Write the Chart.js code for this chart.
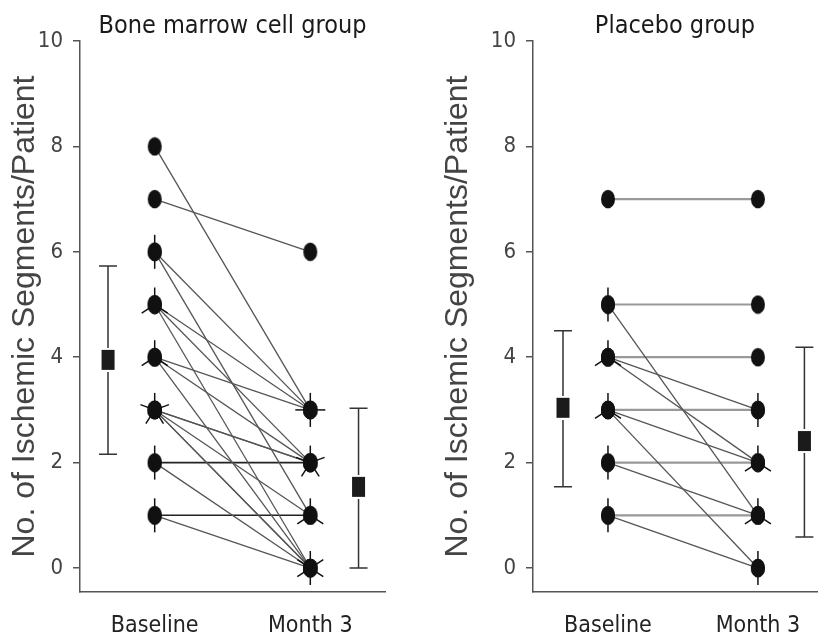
<!DOCTYPE html>
<html>
<head>
<meta charset="utf-8">
<script src="https://cdn.jsdelivr.net/npm/chart.js@4.4.1/dist/chart.umd.min.js"></script>
<style>
  body { margin: 0; background: #fff; }
  #wrap { position: relative; width: 826px; height: 638px; }
  #bmcChart { position: absolute; left: 0; top: 0; }
  #placeboChart { position: absolute; left: 430px; top: 0; }
</style>
</head>
<body>
<div id="wrap">
  <canvas id="bmcChart" width="430" height="638"></canvas>
  <canvas id="placeboChart" width="396" height="638"></canvas>
</div>
<script>
const categories = ['Baseline', 'Month 3'];
const yTicks = [0, 2, 4, 6, 8, 10];

// bone marrow cell group, one entry per patient
const bmcBaseline = [8, 7, 6, 6, 5, 5, 5, 4, 4, 4, 3, 3, 3, 3, 3, 2, 2, 1, 1];
const bmcMonth3   = [3, 6, 3, 1, 3, 2, 0, 3, 2, 0, 2, 2, 1, 0, 0, 2, 0, 1, 0];
const bmcMean = [3.95, 1.54];
const bmcLow  = [2.16, 0];
const bmcHigh = [5.73, 3.03];

// placebo group
const placeboBaseline = [7, 5, 5, 4, 4, 4, 3, 3, 3, 2, 2, 1, 1];
const placeboMonth3   = [7, 5, 1, 4, 3, 2, 3, 2, 0, 2, 1, 1, 0];
const placeboMean = [3.04, 2.41];
const placeboLow  = [1.54, 0.59];
const placeboHigh = [4.5, 4.19];

// mean markers sit just outside the two time points
const meanX = [-0.3, 1.31];

const NARROW = "'Liberation Sans Narrow', 'Arial Narrow', 'DejaVu Sans Condensed', sans-serif";
const SANS = "'Liberation Sans', Arial, sans-serif";

function ellipseMarker() {
  const c = document.createElement('canvas');
  c.width = 16; c.height = 20;
  const g = c.getContext('2d');
  g.fillStyle = '#111';
  g.beginPath();
  g.ellipse(8, 10, 7, 9.2, 0, 0, Math.PI * 2);
  g.fill();
  return c;
}

function squareMarker() {
  const c = document.createElement('canvas');
  c.width = 17; c.height = 24;
  const g = c.getContext('2d');
  g.fillStyle = '#fff';
  g.fillRect(0, 0, 17, 24);
  g.fillStyle = '#1b1b1b';
  g.fillRect(2, 2, 13, 20);
  return c;
}

const dot = ellipseMarker();
const square = squareMarker();

// whiskers for the group means
const errorBars = {
  id: 'errorBars',
  beforeDatasetsDraw(chart, args, opts) {
    const { ctx, scales: { x, y } } = chart;
    ctx.save();
    ctx.strokeStyle = '#333';
    ctx.lineWidth = 1.5;
    opts.low.forEach((lo, i) => {
      const px = x.getPixelForValue(meanX[i]);
      const y1 = y.getPixelForValue(lo);
      const y2 = y.getPixelForValue(opts.high[i]);
      ctx.beginPath();
      ctx.moveTo(px, y1); ctx.lineTo(px, y2);
      ctx.moveTo(px - 9, y1); ctx.lineTo(px + 9, y1);
      ctx.moveTo(px - 9, y2); ctx.lineTo(px + 9, y2);
      ctx.stroke();
    });
    ctx.restore();
  }
};

// sunflower petals: one spoke per patient sharing a point
const petals = {
  id: 'petals',
  afterDatasetsDraw(chart, args, opts) {
    const { ctx, scales: { x, y } } = chart;
    const counts = {};
    opts.baseline.forEach(v => { const k = '0:' + v; counts[k] = (counts[k] || 0) + 1; });
    opts.month3.forEach(v => { const k = '1:' + v; counts[k] = (counts[k] || 0) + 1; });
    ctx.save();
    ctx.strokeStyle = '#111';
    ctx.lineWidth = 1.5;
    Object.keys(counts).forEach(k => {
      const n = counts[k];
      if (n < 2) return;
      const [cx, cy] = k.split(':').map(Number);
      const px = x.getPixelForValue(cx);
      const py = y.getPixelForValue(cy);
      for (let i = 0; i < n; i++) {
        const a = -Math.PI / 2 + i * 2 * Math.PI / n;
        ctx.beginPath();
        ctx.moveTo(px, py);
        ctx.lineTo(px + Math.cos(a) * 15, py + Math.sin(a) * 17);
        ctx.stroke();
      }
    });
    ctx.restore();
  }
};

function buildChart(id, title, baseline, month3, mean, low, high, cfg) {
  const lines = baseline.map((b, i) => {
    const flat = b === month3[i];
    return {
      data: [{ x: 0, y: b }, { x: 1, y: month3[i] }],
      showLine: true,
      borderColor: flat ? cfg.flatColor : '#555',
      borderWidth: flat ? cfg.flatWidth : 1.3,
      pointRadius: 0,
      order: 2
    };
  });
  const points = {
    data: baseline.map(v => ({ x: 0, y: v })).concat(month3.map(v => ({ x: 1, y: v }))),
    pointStyle: dot,
    pointRadius: 8,
    order: 1
  };
  const means = {
    data: mean.map((v, i) => ({ x: meanX[i], y: v })),
    pointStyle: square,
    pointRadius: 8,
    order: 0
  };

  return new Chart(document.getElementById(id), {
    type: 'scatter',
    data: { datasets: [...lines, points, means] },
    plugins: [errorBars, petals],
    options: {
      responsive: false,
      animation: false,
      layout: { padding: { left: 0, right: cfg.padRight, top: 0, bottom: 0 } },
      plugins: {
        legend: { display: false },
        tooltip: { enabled: false },
        title: {
          display: true,
          text: title,
          fullSize: false,
          color: '#1a1a1a',
          font: { family: NARROW, size: 25, weight: 'normal', lineHeight: 1.0 },
          padding: { top: 14, bottom: 2 }
        },
        errorBars: { low: low, high: high },
        petals: { baseline: baseline, month3: month3 }
      },
      scales: {
        x: {
          type: 'linear',
          min: cfg.xMin,
          max: cfg.xMax,
          afterBuildTicks: s => { s.ticks = [{ value: 0 }, { value: 1 }]; },
          afterFit: s => { s.height = 46; },
          grid: { display: false },
          border: { color: '#555', width: 1.5 },
          ticks: {
            callback: v => categories[v],
            color: '#222',
            padding: 12,
            maxRotation: 0,
            font: { family: NARROW, size: 23 }
          }
        },
        y: {
          min: -0.455,
          max: 10,
          afterBuildTicks: s => { s.ticks = yTicks.map(v => ({ value: v })); },
          afterFit: s => { s.width = cfg.yWidth; },
          grid: { drawOnChartArea: false, tickLength: 7, color: '#555', lineWidth: 1.5 },
          border: { color: '#555', width: 1.5 },
          ticks: {
            color: '#444',
            padding: 10,
            font: { family: NARROW, size: 22 }
          },
          title: {
            display: true,
            text: 'No. of Ischemic Segments/Patient',
            color: '#444',
            font: { family: SANS, size: 32 },
            padding: { top: cfg.titlePad, bottom: 0 }
          }
        }
      }
    }
  });
}

buildChart('bmcChart', 'Bone marrow cell group', bmcBaseline, bmcMonth3, bmcMean, bmcLow, bmcHigh, {
  xMin: -0.48, xMax: 1.48, yWidth: 80, padRight: 45, titlePad: 6,
  flatColor: '#222', flatWidth: 1.6
});

buildChart('placeboChart', 'Placebo group', placeboBaseline, placeboMonth3, placeboMean, placeboLow, placeboHigh, {
  xMin: -0.5, xMax: 1.394, yWidth: 103, padRight: 0, titlePad: 9,
  flatColor: '#999', flatWidth: 2.2
});
</script>
</body>
</html>
